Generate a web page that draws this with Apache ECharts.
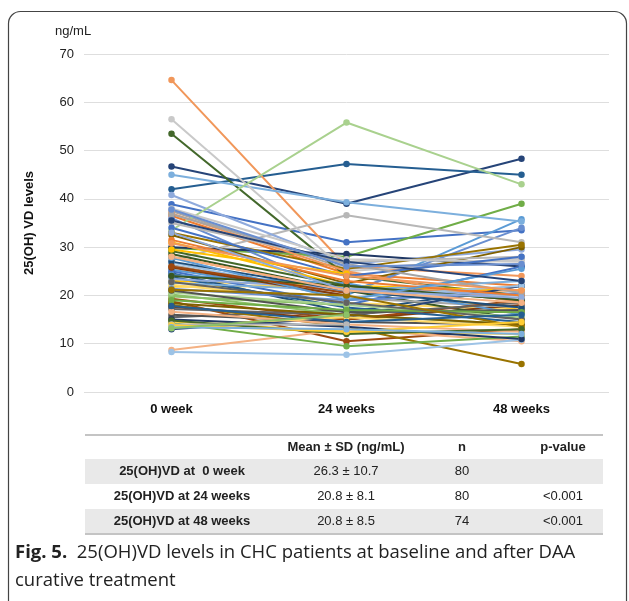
<!DOCTYPE html>
<html>
<head>
<meta charset="utf-8">
<script src="https://cdn.jsdelivr.net/npm/echarts/dist/echarts.min.js"></script>
<style>
  html, body { margin: 0; padding: 0; background: #fff; }
  #chart { width: 629px; height: 601px; }
</style>
</head>
<body>
<div id="chart"></div>
<script>
// x categories
var categories = ['0 week', '24 weeks', '48 weeks'];

// one value per patient at each visit (null = not measured)
var week0 = [38.9, 36.5, 37.5, 23.0, 25.3, 29.8, 46.7, 18.8, 15.5, 18.0,
  42.0, 53.5, 36.0, 64.6, 27.3, 21.8, 45.0, 20.2, 40.8, 8.7,
  56.5, 22.2, 8.3, 33.5, 30.0, 17.6, 16.0, 32.5, 24.6, 28.6,
  25.0, 28.0, 26.3, 31.0, 24.2, 14.3, 13.0, 19.3, 17.2, 33.0,
  23.8, 29.2, 21.4, 37.0, 35.0, 14.6, 22.6, 19.8, 23.4, 16.6,
  38.0, 13.7, 26.8, 20.6, 15.0, 25.8, 21.0, 18.4, 27.0, 24.0,
  34.0, 31.5, 36.8, 29.5, 27.8, 19.0, 35.5, 26.0, 22.8, 21.2,
  17.8, 14.8, 37.8, 30.8, 14.0, 13.8, 13.4, 13.2, 33.0, 28.0];

var week24 = [31.0, 24.5, 25.5, 22.0, 20.0, 28.0, 39.0, 10.5, 17.0, 13.5,
  47.2, 24.0, 20.5, 26.0, 36.6, 22.0, 39.3, 16.0, 26.5, 13.0,
  25.0, 18.5, 7.7, 55.8, 28.6, 15.0, 14.5, 22.5, 16.5, 21.0,
  18.0, 21.0, 19.5, 22.0, 22.5, 9.5, 15.5, 15.0, 16.0, 25.5,
  17.5, 22.0, 19.0, 25.0, 27.0, 12.5, 21.0, 18.0, 21.5, 14.0,
  27.5, 15.5, 19.5, 18.0, 13.5, 20.0, 16.5, 16.0, 21.0, 22.0,
  24.0, 23.0, 26.5, 24.5, 19.0, 17.0, 27.0, 20.5, 18.5, 20.0,
  14.5, 12.0, 26.0, 24.0, 14.0, 12.5, 13.0, 16.0, 21.0, 21.0];

var week48 = [33.5, 22.0, 27.5, 17.0, 35.8, 39.0, 48.3, 13.0, 16.5, 5.8,
  45.0, 20.0, 34.0, 24.0, 31.0, 20.0, 35.3, 14.0, 29.5, 10.5,
  27.5, 17.0, 10.8, 43.0, 26.0, 18.0, 14.0, 30.0, 22.0, 15.0,
  26.0, 21.0, 17.5, 21.0, 16.0, 11.5, 22.0, 19.0, 18.5, 30.5,
  14.5, 19.0, 20.5, 18.5, 28.0, 12.0, 23.0, null, 20.0, 12.5,
  27.0, 13.5, 22.0, 15.5, 11.0, null, 17.0, 14.0, 17.5, 19.0,
  28.0, 20.0, 20.5, null, 25.5, 16.5, 23.0, null, 15.0, 13.5,
  16.0, 13.0, 26.5, 21.0, null, 14.5, 12.0, null, 19.5, 18.5];

// summary table under the chart
var tableHeader = ['', 'Mean ± SD (ng/mL)', 'n', 'p-value'];
var tableRows = [
  ['25(OH)VD at  0 week', '26.3 ± 10.7', '80', ''],
  ['25(OH)VD at 24 weeks', '20.8 ± 8.1', '80', '<0.001'],
  ['25(OH)VD at 48 weeks', '20.8 ± 8.5', '74', '<0.001']
];

// office-like colour cycle
var palette = ['#4472C4', '#ED7D31', '#A5A5A5', '#FFC000', '#5B9BD5', '#70AD47',
  '#264478', '#9E480E', '#636363', '#997300', '#255E91', '#43682B',
  '#698ED0', '#F1975A', '#B7B7B7', '#FFCD33', '#7CAFDD', '#8CC168',
  '#8FAADC', '#F4B183', '#C9C9C9', '#FFD966', '#9DC3E6', '#A9D18E',
  '#203864', '#843C0C', '#525252', '#7F6000', '#1F4E79', '#385723'];

var FONT = '"Liberation Sans", Arial, Helvetica, sans-serif';
var CAP_FONT = '"Open Sans", sans-serif';

var series = week0.map(function (v, i) {
  var c = palette[i % palette.length];
  return {
    type: 'line',
    name: 'P' + (i + 1),
    data: [v, week24[i], week48[i]],
    symbol: 'circle',
    symbolSize: 6.5,
    itemStyle: { color: c },
    lineStyle: { color: c, width: 2 },
    emphasis: { disabled: true }
  };
});

// table + caption drawn as graphic elements
var colX = [182, 346, 462, 563];
var tblLeft = 85, tblRight = 603;
var rowTop = [459, 484, 509];
var rowH = 25;
var graphics = [];

graphics.push({
  type: 'rect', z: -10,
  shape: { x: 8.5, y: 11.5, width: 618, height: 640, r: 12 },
  style: { fill: '#fff', stroke: '#444', lineWidth: 1.2 }
});
graphics.push({
  type: 'text', x: 55, y: 31,
  style: { text: 'ng/mL', font: '13px ' + FONT, fill: '#222', verticalAlign: 'middle' }
});

tableRows.forEach(function (row, r) {
  if (r !== 1) {
    graphics.push({
      type: 'rect',
      shape: { x: tblLeft, y: rowTop[r], width: tblRight - tblLeft, height: rowH },
      style: { fill: '#e9e9e9' }
    });
  }
  row.forEach(function (t, c) {
    graphics.push({
      type: 'text', x: colX[c], y: rowTop[r] + rowH / 2,
      style: {
        text: t, align: 'center', verticalAlign: 'middle', fill: '#222',
        font: (c === 0 ? 'bold ' : '') + '13px ' + FONT
      }
    });
  });
});
tableHeader.forEach(function (t, c) {
  graphics.push({
    type: 'text', x: colX[c], y: 447,
    style: { text: t, align: 'center', verticalAlign: 'middle', fill: '#222', font: 'bold 13px ' + FONT }
  });
});
[435, 534].forEach(function (y) {
  graphics.push({
    type: 'line',
    shape: { x1: tblLeft, y1: y, x2: tblRight, y2: y },
    style: { stroke: '#c4c4c4', lineWidth: 2 }
  });
});

graphics.push({
  type: 'text', x: 15, y: 553,
  style: {
    text: '{b|Fig. 5.}  25(OH)VD levels in CHC patients at baseline and after DAA',
    verticalAlign: 'middle', fill: '#222', font: '18.5px ' + CAP_FONT,
    rich: { b: { fontWeight: 'bold', fontSize: 18.5, fontFamily: CAP_FONT, fill: '#222' } }
  }
});
graphics.push({
  type: 'text', x: 15, y: 581,
  style: { text: 'curative treatment', verticalAlign: 'middle', fill: '#222', font: '18.5px ' + CAP_FONT }
});

var chart = echarts.init(document.getElementById('chart'));
chart.setOption({
  animation: false,
  backgroundColor: '#fff',
  grid: { left: 84, right: 20, top: 54, bottom: 209 },
  xAxis: {
    type: 'category',
    data: categories,
    boundaryGap: true,
    axisLine: { show: false },
    axisTick: { show: false },
    axisLabel: { color: '#111', fontWeight: 'bold', fontSize: 13, fontFamily: FONT, margin: 11 }
  },
  yAxis: {
    type: 'value',
    min: 0, max: 70, interval: 10,
    name: '25(OH) VD levels',
    nameLocation: 'middle',
    nameRotate: 90,
    nameGap: 48,
    nameTextStyle: { color: '#111', fontWeight: 'bold', fontSize: 13, fontFamily: FONT },
    axisLine: { show: false },
    axisTick: { show: false },
    axisLabel: { color: '#222', fontSize: 13, fontFamily: FONT, margin: 10 },
    splitLine: { lineStyle: { color: '#dedede', width: 1 } }
  },
  series: series,
  graphic: { elements: graphics }
});
window.onresize = function () { chart.resize(); };
</script>
</body>
</html>
